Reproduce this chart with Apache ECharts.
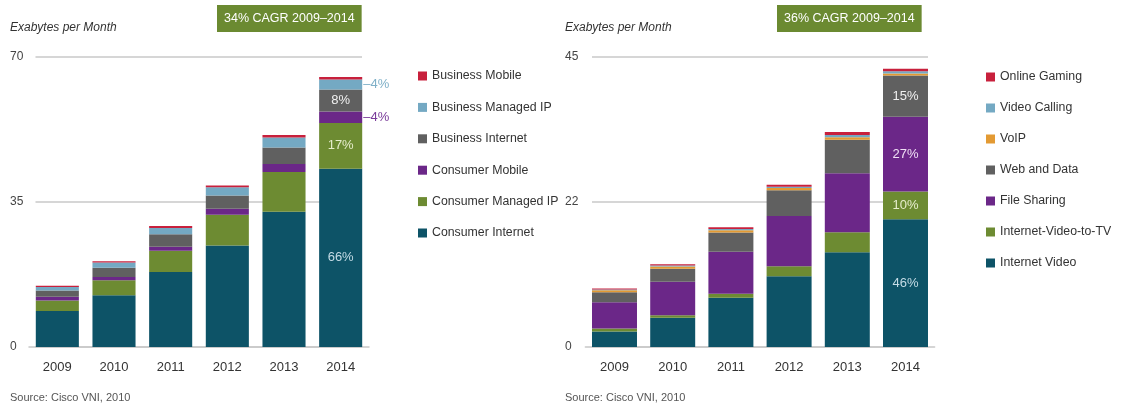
<!DOCTYPE html>
<html>
<head>
<meta charset="utf-8">
<script src="https://cdn.jsdelivr.net/npm/echarts@6/dist/echarts.min.js"></script>
<style>
  html, body { margin: 0; padding: 0; background: #ffffff; }
  #chart { width: 1126px; height: 408px; }
</style>
</head>
<body>
<div id="chart"></div>
<script>
// Years shared by both panels
const years = ['2009', '2010', '2011', '2012', '2013', '2014'];

// Global IP traffic by segment (EB per month)
const consumerInternet  = [8.7, 12.5, 18.1, 24.5, 32.6, 43.0];
const consumerManagedIP = [2.5, 3.6, 5.1, 7.4, 9.6, 11.0];
const consumerMobile    = [0.9, 0.8, 1.0, 1.45, 1.9, 2.8];
const businessInternet  = [1.5, 2.2, 3.0, 3.2, 4.0, 5.3];
const businessManagedIP = [0.85, 1.3, 1.5, 2.0, 2.4, 2.4];
const businessMobile    = [0.3, 0.3, 0.45, 0.4, 0.6, 0.6];

// Consumer internet traffic by application (EB per month)
const internetVideo     = [2.4, 4.55, 7.65, 10.96, 14.7, 19.8];
const internetVideoToTV = [0.45, 0.37, 0.6, 1.55, 3.1, 4.3];
const fileSharing       = [4.1, 5.2, 6.5, 7.8, 9.15, 11.6];
const webAndData        = [1.55, 2.0, 3.0, 3.98, 5.17, 6.4];
const voip              = [0.3, 0.35, 0.35, 0.35, 0.4, 0.3];
const videoCalling      = [0.1, 0.15, 0.2, 0.2, 0.35, 0.35];
const onlineGaming      = [0.15, 0.2, 0.25, 0.3, 0.45, 0.4];

// Y axis tick labels
const leftTicks  = ['0', '35', '70'];
const rightTicks = ['0', '22', '45'];

const FONT = "'Liberation Sans', Arial, Helvetica, sans-serif";
const C = {
  teal: '#0d5367', green: '#6d8b32', purple: '#6b2788', gray: '#606060',
  lightBlue: '#74a9c3', red: '#c8203c', orange: '#e39a33'
};

function totals(list) {
  return years.map((_, i) => list.reduce((s, arr) => s + arr[i], 0));
}
const leftTotals = totals([consumerInternet, consumerManagedIP, consumerMobile, businessInternet, businessManagedIP, businessMobile]);
const rightTotals = totals([internetVideo, internetVideoToTV, fileSharing, webAndData, voip, videoCalling, onlineGaming]);

// Share label on the 2014 column: inside or to the right with a leader dash
function shareLabel(values, tot, color, outside) {
  const last = years.length - 1;
  return values.map((v, i) => {
    if (i !== last || !color) return v;
    const pct = Math.round(v / tot[i] * 100) + '%';
    return {
      value: v,
      label: outside ? {
        show: true, position: 'right', distance: 1, color: color,
        fontSize: 13, fontFamily: FONT, formatter: '\u2013' + pct
      } : {
        show: true, position: 'inside', color: color,
        fontSize: 13, fontFamily: FONT, formatter: pct
      }
    };
  });
}

function bar(name, values, color, stack, axis, tot, lblColor, outside) {
  return {
    name: name, type: 'bar', stack: stack,
    xAxisIndex: axis, yAxisIndex: axis,
    barCategoryGap: axis === 0 ? '24%' : '22.7%',
    itemStyle: { color: color },
    data: shareLabel(values, tot, lblColor, outside)
  };
}

const gridTop = 56.7, gridH = 290.3;
const lineStyle = { color: '#c8c8c8', width: 1.5 };

function catAxis(idx) {
  return {
    gridIndex: idx, type: 'category', data: years,
    axisTick: { show: false },
    axisLine: { lineStyle: lineStyle },
    axisLabel: { margin: 14, fontSize: 13, color: '#333', fontFamily: FONT }
  };
}
function ruleAxis(idx, max, ticks, margin) {
  return {
    gridIndex: idx, type: 'value', min: 0, max: max, interval: max / 2,
    axisLine: { show: false }, axisTick: { show: false },
    splitLine: { lineStyle: lineStyle },
    axisLabel: {
      align: 'left', margin: margin, fontSize: 12, color: '#444', fontFamily: FONT,
      formatter: v => ticks[Math.round(v / (max / 2))]
    }
  };
}

function t(obj, style) {
  return Object.assign({ padding: 0 }, obj, {
    textStyle: Object.assign({ fontFamily: FONT, fontWeight: 'normal' }, style)
  });
}

const legendText = { fontSize: 12.3, color: '#333', fontFamily: FONT, lineHeight: 14 };

const option = {
  animation: false,
  backgroundColor: '#ffffff',
  textStyle: { fontFamily: FONT },
  title: [
    t({ text: 'Exabytes per Month', left: 10, top: 22 }, { fontSize: 12, fontStyle: 'italic', color: '#333' }),
    t({ text: 'Exabytes per Month', left: 565, top: 22 }, { fontSize: 12, fontStyle: 'italic', color: '#333' }),
    t({ text: '34% CAGR 2009\u20132014', left: 217, top: 5, padding: [7, 7], backgroundColor: '#6b8a31' }, { fontSize: 12.5, color: '#ffffff' }),
    t({ text: '36% CAGR 2009\u20132014', left: 777, top: 5, padding: [7, 7], backgroundColor: '#6b8a31' }, { fontSize: 12.5, color: '#ffffff' }),
    t({ text: 'Source: Cisco VNI, 2010', left: 10, top: 392 }, { fontSize: 11, color: '#555' }),
    t({ text: 'Source: Cisco VNI, 2010', left: 565, top: 392 }, { fontSize: 11, color: '#555' })
  ],
  legend: [
    {
      orient: 'vertical', left: 418, top: 69, padding: 0, itemWidth: 9, itemHeight: 9, itemGap: 17.4,
      icon: 'rect', textStyle: legendText, selectedMode: false,
      data: ['Business Mobile', 'Business Managed IP', 'Business Internet', 'Consumer Mobile', 'Consumer Managed IP', 'Consumer Internet']
    },
    {
      orient: 'vertical', left: 986, top: 70, padding: 0, itemWidth: 9, itemHeight: 9, itemGap: 17,
      icon: 'rect', textStyle: legendText, selectedMode: false,
      data: ['Online Gaming', 'Video Calling', 'VoIP', 'Web and Data', 'File Sharing', 'Internet-Video-to-TV', 'Internet Video']
    }
  ],
  grid: [
    { left: 29, top: gridTop, width: 340, height: gridH },
    { left: 35.5, top: gridTop, width: 326.5, height: gridH },
    { left: 585.4, top: gridTop, width: 349.2, height: gridH },
    { left: 592, top: gridTop, width: 336, height: gridH }
  ],
  xAxis: [
    catAxis(0),
    { gridIndex: 1, type: 'value', show: false },
    catAxis(2),
    { gridIndex: 3, type: 'value', show: false }
  ],
  yAxis: [
    { gridIndex: 0, type: 'value', min: 0, max: 70, show: false },
    ruleAxis(1, 70, leftTicks, 25.5),
    { gridIndex: 2, type: 'value', min: 0, max: 45, show: false },
    ruleAxis(3, 45, rightTicks, 27)
  ],
  series: [
    // empty series so the rule-only grids get their axes drawn
    { type: 'line', xAxisIndex: 1, yAxisIndex: 1, data: [], silent: true },
    { type: 'line', xAxisIndex: 3, yAxisIndex: 3, data: [], silent: true },

    bar('Consumer Internet', consumerInternet, C.teal, 'L', 0, leftTotals, '#c5dce6', false),
    bar('Consumer Managed IP', consumerManagedIP, C.green, 'L', 0, leftTotals, '#e6edcc', false),
    bar('Consumer Mobile', consumerMobile, C.purple, 'L', 0, leftTotals, '#7a3c9a', true),
    bar('Business Internet', businessInternet, C.gray, 'L', 0, leftTotals, '#f0f0f0', false),
    bar('Business Managed IP', businessManagedIP, C.lightBlue, 'L', 0, leftTotals, '#7fb0c8', true),
    bar('Business Mobile', businessMobile, C.red, 'L', 0, leftTotals, null, false),

    bar('Internet Video', internetVideo, C.teal, 'R', 2, rightTotals, '#c5dce6', false),
    bar('Internet-Video-to-TV', internetVideoToTV, C.green, 'R', 2, rightTotals, '#e6edcc', false),
    bar('File Sharing', fileSharing, C.purple, 'R', 2, rightTotals, '#f0e0f5', false),
    bar('Web and Data', webAndData, C.gray, 'R', 2, rightTotals, '#f0f0f0', false),
    bar('VoIP', voip, C.orange, 'R', 2, rightTotals, null, false),
    bar('Video Calling', videoCalling, C.lightBlue, 'R', 2, rightTotals, null, false),
    bar('Online Gaming', onlineGaming, C.red, 'R', 2, rightTotals, null, false)
  ]
};

const chart = echarts.init(document.getElementById('chart'), null, { renderer: 'canvas' });
chart.setOption(option);
</script>
</body>
</html>
